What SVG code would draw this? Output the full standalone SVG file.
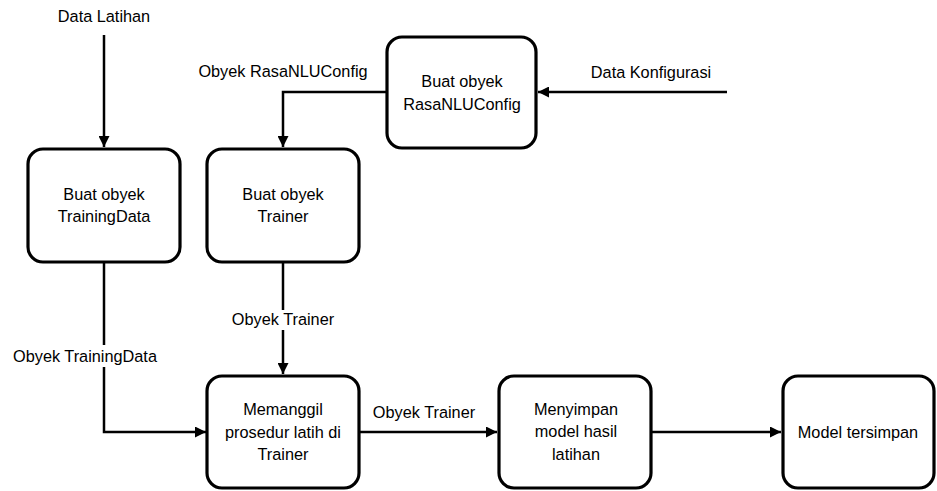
<svg xmlns="http://www.w3.org/2000/svg" width="937" height="491" viewBox="0 0 937 491">
<style>
.box{fill:#fff;stroke:#000;stroke-width:3.2}
.ln{fill:none;stroke:#000;stroke-width:2.5}
text{font-family:"Liberation Sans",Arial,sans-serif;font-size:16.3px;fill:#000;text-anchor:middle}
.bg{fill:#fff}
</style>
<defs>
<marker id="ah" viewBox="0 0 10 10" refX="10" refY="5" markerWidth="11" markerHeight="11" markerUnits="userSpaceOnUse" orient="auto">
<path d="M0,0 L10,5 L0,10 z" fill="#000"/>
</marker>
</defs>
<rect width="937" height="491" fill="#fff"/>
<g id="connectors">
<path class="ln" d="M104,35 V147" marker-end="url(#ah)"/>
<path class="ln" d="M387,92 H283 V147" marker-end="url(#ah)"/>
<path class="ln" d="M727,92 H538" marker-end="url(#ah)"/>
<path class="ln" d="M104,263 V432 H206" marker-end="url(#ah)"/>
<path class="ln" d="M283,263 V374" marker-end="url(#ah)"/>
<path class="ln" d="M360,432 H497" marker-end="url(#ah)"/>
<path class="ln" d="M652,432 H781" marker-end="url(#ah)"/>
<rect class="bg" x="225" y="310" width="116" height="20"/>
<rect class="bg" x="6" y="345" width="158" height="22"/>
<text x="104" y="22">Data Latihan</text>
<text x="283" y="77">Obyek RasaNLUConfig</text>
<text x="651" y="78">Data Konfigurasi</text>
<text x="283" y="325">Obyek Trainer</text>
<text x="85" y="362">Obyek TrainingData</text>
<text x="424" y="418">Obyek Trainer</text>
</g>
<g id="node-trainingdata">
<rect class="box" x="28" y="149" width="152" height="113" rx="15"/>
<text x="104" y="200">Buat obyek</text>
<text x="104" y="222">TrainingData</text>
</g>
<g id="node-trainer">
<rect class="box" x="207" y="149" width="152" height="113" rx="15"/>
<text x="283" y="200">Buat obyek</text>
<text x="283" y="222">Trainer</text>
</g>
<g id="node-rasanluconfig">
<rect class="box" x="387" y="37" width="149" height="111" rx="15"/>
<text x="462" y="87">Buat obyek</text>
<text x="462" y="110">RasaNLUConfig</text>
</g>
<g id="node-memanggil">
<rect class="box" x="207" y="376" width="152" height="112" rx="15"/>
<text x="283" y="415">Memanggil</text>
<text x="283" y="438">prosedur latih di</text>
<text x="283" y="460">Trainer</text>
</g>
<g id="node-menyimpan">
<rect class="box" x="499" y="376" width="152" height="112" rx="15"/>
<text x="576" y="415">Menyimpan</text>
<text x="576" y="437">model hasil</text>
<text x="576" y="460">latihan</text>
</g>
<g id="node-model">
<rect class="box" x="783" y="376" width="151" height="112" rx="15"/>
<text x="858" y="438">Model tersimpan</text>
</g>
</svg>
